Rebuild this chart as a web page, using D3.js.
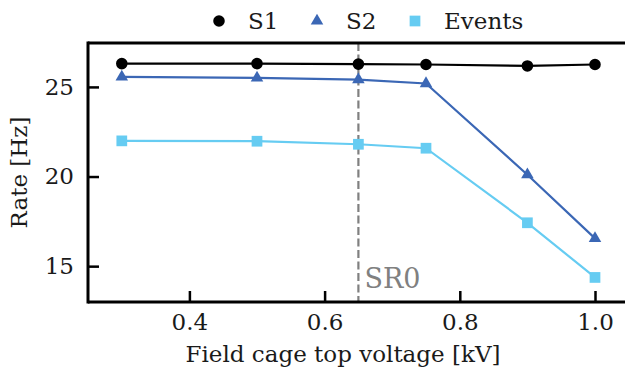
<!DOCTYPE html>
<html>
<head>
<meta charset="utf-8">
<script src="https://cdn.jsdelivr.net/npm/d3@7"></script>
<style>
  body { margin: 0; background: #fff; }
</style>
</head>
<body>
<div id="chart"></div>
<script>
// data
const voltages = [0.3, 0.5, 0.65, 0.75, 0.9, 1.0];
const s1Rate = [26.3, 26.3, 26.27, 26.25, 26.17, 26.25];
const s2Rate = [25.56, 25.5, 25.41, 25.19, 20.1, 16.55];
const eventRate = [21.99, 21.97, 21.8, 21.58, 17.42, 14.37];
const xTicks = [0.4, 0.6, 0.8, 1.0];
const yTicks = [15, 20, 25];
const sr0Voltage = 0.65;

const series = [
  { name: 'S1', values: s1Rate, color: '#000000', symbol: d3.symbolCircle, size: 105 },
  { name: 'S2', values: s2Rate, color: '#3b67b5', symbol: d3.symbolTriangle, size: 68 },
  { name: 'Events', values: eventRate, color: '#66ccf2', symbol: d3.symbolSquare, size: 115 },
];

// dimensions
const W = 625, H = 375;
const MARGIN_LEFT = 88, MARGIN_TOP = 43, MARGIN_BOTTOM = 73;
const FONT = '"DejaVu Serif"';
const TEXT_COLOR = '#1a1a1a';

const $svg = d3.select('#chart').append('svg')
  .attr('width', W).attr('height', H)
  .style('font-family', FONT);

// right edge of the axes box falls just outside the picture
const xScale = d3.scaleLinear().domain([0.25, 1.05]).range([MARGIN_LEFT, MARGIN_LEFT + 0.8 * 676]);
const yScale = d3.scaleLinear().domain([13.0, 27.45]).range([H - MARGIN_BOTTOM, MARGIN_TOP]);

// SR0 marker
$svg.append('line')
  .attr('x1', xScale(sr0Voltage)).attr('x2', xScale(sr0Voltage))
  .attr('y1', MARGIN_TOP).attr('y2', H - MARGIN_BOTTOM)
  .attr('stroke', '#808080').attr('stroke-width', 2.2)
  .attr('stroke-dasharray', '8,3.5');
$svg.append('text')
  .attr('x', xScale(sr0Voltage) + 6).attr('y', 288)
  .attr('fill', '#808080').style('font-size', '27px').style('font-family', FONT)
  .text('SR0');

// lines + markers
const line = d3.line().x((d, i) => xScale(voltages[i])).y(d => yScale(d));
series.forEach(s => {
  $svg.append('path')
    .attr('d', line(s.values))
    .attr('fill', 'none').attr('stroke', s.color).attr('stroke-width', 2.2);
  $svg.selectAll(null).data(s.values).join('path')
    .attr('d', d3.symbol().type(s.symbol).size(s.size))
    .attr('transform', (d, i) => `translate(${xScale(voltages[i])},${yScale(d)})`)
    .attr('fill', s.color);
});

// spines
const $axes = $svg.append('g').attr('stroke', '#000').attr('stroke-width', 3);
$axes.append('line').attr('x1', MARGIN_LEFT).attr('x2', W).attr('y1', MARGIN_TOP).attr('y2', MARGIN_TOP);
$axes.append('line').attr('x1', MARGIN_LEFT).attr('x2', W).attr('y1', H - MARGIN_BOTTOM).attr('y2', H - MARGIN_BOTTOM);
$axes.append('line').attr('x1', MARGIN_LEFT).attr('x2', MARGIN_LEFT).attr('y1', MARGIN_TOP - 1.5).attr('y2', H - MARGIN_BOTTOM + 1.5);

// axes (ticks point inward)
const xAxis = $svg.append('g')
  .attr('transform', `translate(0,${H - MARGIN_BOTTOM})`)
  .call(d3.axisBottom(xScale).tickValues(xTicks).tickFormat(d3.format('.1f')).tickSizeInner(-11).tickPadding(12));
const yAxis = $svg.append('g')
  .attr('transform', `translate(${MARGIN_LEFT},0)`)
  .call(d3.axisLeft(yScale).tickValues(yTicks).tickSizeInner(-11).tickPadding(14));
[xAxis, yAxis].forEach(a => {
  a.attr('font-family', null).attr('font-size', null);
  a.select('.domain').remove();
  a.selectAll('.tick line').attr('stroke-width', 2.5);
  a.selectAll('.tick text')
    .style('font-family', FONT).style('font-size', '23px').attr('fill', TEXT_COLOR);
});

// axis titles
$svg.append('text')
  .attr('x', 343).attr('y', 362).attr('text-anchor', 'middle')
  .style('font-size', '23px').style('font-family', FONT).attr('fill', TEXT_COLOR)
  .text('Field cage top voltage [kV]');
$svg.append('text')
  .attr('transform', `translate(27,${(MARGIN_TOP + H - MARGIN_BOTTOM) / 2}) rotate(-90)`)
  .attr('text-anchor', 'middle')
  .style('font-size', '23px').style('font-family', FONT).attr('fill', TEXT_COLOR)
  .text('Rate [Hz]');

// legend
const legendX = [219, 317, 415];
const $legend = $svg.append('g');
series.forEach((s, i) => {
  $legend.append('path')
    .attr('d', d3.symbol().type(s.symbol).size(s.size))
    .attr('transform', `translate(${legendX[i]},21)`)
    .attr('fill', s.color);
  $legend.append('text')
    .attr('x', legendX[i] + 29).attr('y', 29)
    .style('font-size', '23px').style('font-family', FONT).attr('fill', TEXT_COLOR)
    .text(s.name);
});
</script>
</body>
</html>
